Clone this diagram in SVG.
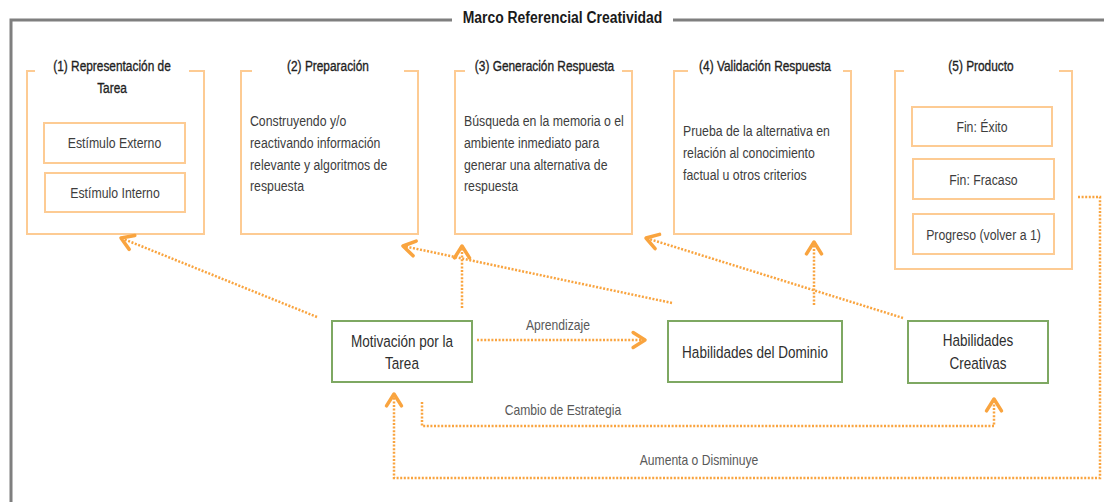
<svg xmlns="http://www.w3.org/2000/svg" width="1104" height="502" viewBox="0 0 1104 502">
<style>
  text { font-family: 'Liberation Sans', Arial, sans-serif; }
  .frame { fill: none; stroke: #7f7f7f; stroke-width: 3; }
  .title { font-size: 17px; font-weight: bold; fill: #1a1a1a; text-anchor: middle; }
  .stage { fill: none; stroke: #fdcb93; stroke-width: 2; }
  .stitle { font-size: 14.5px; fill: #1f1f1f; stroke: #1f1f1f; stroke-width: 0.35; text-anchor: middle; }
  .body { font-size: 15px; fill: #3d3d3d; }
  .inner { font-size: 15px; fill: #3d3d3d; text-anchor: middle; }
  .green { fill: #ffffff; stroke: #7ea862; stroke-width: 2; }
  .gtext { font-size: 16.5px; fill: #2e2e2e; text-anchor: middle; }
  .lbl { font-size: 14.8px; fill: #595959; text-anchor: middle; }
  .conn { fill: none; stroke: #f9a43f; stroke-width: 2.5; stroke-dasharray: 2 1.6; marker-end: url(#arr); }
</style>
<defs>
  <marker id="arr" markerUnits="userSpaceOnUse" markerWidth="20" markerHeight="20" viewBox="-12 -8 14 16" refX="0" refY="0" orient="auto">
    <path d="M-9.5,-6 L0,0 L-9.5,6" fill="none" stroke="#f9a43f" stroke-width="2.8" stroke-linecap="round" stroke-linejoin="round"/>
  </marker>
</defs>
<rect width="1104" height="502" fill="#ffffff"/>
<g id="frame">
  <path class="frame" d="M452,20 H11 V510"/>
  <path class="frame" d="M673,20 H1110"/>
  <text class="title" transform="translate(562.5 23) scale(0.82 1)">Marco Referencial Creatividad</text>
</g>
<g id="stage1">
  <path class="stage" d="M35,71 H27 V234 H204 V71 H189"/>
  <text class="stitle" transform="translate(112 71) scale(0.82 1)">(1) Representación de</text>
  <text class="stitle" transform="translate(112 93) scale(0.82 1)">Tarea</text>
  <g id="estimulo-externo">
    <rect class="stage" x="44" y="123" width="141" height="40"/>
    <text class="inner" transform="translate(114.5 148) scale(0.82 1)">Estímulo Externo</text>
  </g>
  <g id="estimulo-interno">
    <rect class="stage" x="45" y="173" width="140" height="39"/>
    <text class="inner" transform="translate(115 198) scale(0.82 1)">Estímulo Interno</text>
  </g>
</g>
<g id="stage2">
  <path class="stage" d="M252,71 H241 V234 H418 V71 H404"/>
  <text class="stitle" transform="translate(328 71) scale(0.82 1)">(2) Preparación</text>
  <text class="body" transform="translate(250 126) scale(0.82 1)">Construyendo y/o</text>
  <text class="body" transform="translate(250 148) scale(0.82 1)">reactivando información</text>
  <text class="body" transform="translate(250 169.5) scale(0.82 1)">relevante y algoritmos de</text>
  <text class="body" transform="translate(250 191) scale(0.82 1)">respuesta</text>
</g>
<g id="stage3">
  <path class="stage" d="M465,71 H455 V234 H632 V71 H622"/>
  <text class="stitle" transform="translate(544.5 71) scale(0.82 1)">(3) Generación Respuesta</text>
  <text class="body" transform="translate(464 126) scale(0.82 1)">Búsqueda en la memoria o el</text>
  <text class="body" transform="translate(464 148) scale(0.82 1)">ambiente inmediato para</text>
  <text class="body" transform="translate(464 169.5) scale(0.82 1)">generar una alternativa de</text>
  <text class="body" transform="translate(464 191) scale(0.82 1)">respuesta</text>
</g>
<g id="stage4">
  <path class="stage" d="M688,71 H674 V234 H851 V71 H843"/>
  <text class="stitle" transform="translate(765 71) scale(0.82 1)">(4) Validación Respuesta</text>
  <text class="body" transform="translate(683 136) scale(0.82 1)">Prueba de la alternativa en</text>
  <text class="body" transform="translate(683 158) scale(0.82 1)">relación al conocimiento</text>
  <text class="body" transform="translate(683 179.5) scale(0.82 1)">factual u otros criterios</text>
</g>
<g id="stage5">
  <path class="stage" d="M904,71 H895 V269 H1072 V71 H1059"/>
  <text class="stitle" transform="translate(981 71) scale(0.82 1)">(5) Producto</text>
  <g id="fin-exito">
    <rect class="stage" x="912" y="107" width="140" height="39"/>
    <text class="inner" transform="translate(982 132) scale(0.82 1)">Fin: Éxito</text>
  </g>
  <g id="fin-fracaso">
    <rect class="stage" x="913" y="159" width="141" height="40"/>
    <text class="inner" transform="translate(983.5 184.5) scale(0.82 1)">Fin: Fracaso</text>
  </g>
  <g id="progreso">
    <rect class="stage" x="913" y="214" width="141" height="40"/>
    <text class="inner" transform="translate(983.5 239.5) scale(0.82 1)">Progreso (volver a 1)</text>
  </g>
</g>
<g id="motivacion">
  <rect class="green" x="332" y="321" width="140" height="61"/>
  <text class="gtext" transform="translate(402 347) scale(0.82 1)">Motivación por la</text>
  <text class="gtext" transform="translate(402 369) scale(0.82 1)">Tarea</text>
</g>
<g id="habilidades-dominio">
  <rect class="green" x="668" y="321" width="174" height="61"/>
  <text class="gtext" transform="translate(755 358) scale(0.82 1)">Habilidades del Dominio</text>
</g>
<g id="habilidades-creativas">
  <rect class="green" x="908" y="321" width="140" height="62"/>
  <text class="gtext" transform="translate(978 346) scale(0.82 1)">Habilidades</text>
  <text class="gtext" transform="translate(978 369) scale(0.82 1)">Creativas</text>
</g>
<g id="connectors">
  <path class="conn" d="M317,317 L121,238"/>
  <path class="conn" d="M462,308 V246"/>
  <path class="conn" d="M672,303 L403,246"/>
  <path class="conn" d="M814,305 V242"/>
  <path class="conn" d="M903,318 L646,238"/>
  <path class="conn" d="M477,340 H645"/>
  <path class="conn" d="M422,402 V426 H994 V399"/>
  <path class="conn" d="M1078,197 H1100 V478 H394 V394"/>
  <text class="lbl" transform="translate(558 330) scale(0.82 1)">Aprendizaje</text>
  <text class="lbl" transform="translate(563 415) scale(0.82 1)">Cambio de Estrategia</text>
  <text class="lbl" transform="translate(699 465) scale(0.82 1)">Aumenta o Disminuye</text>
</g>
</svg>
